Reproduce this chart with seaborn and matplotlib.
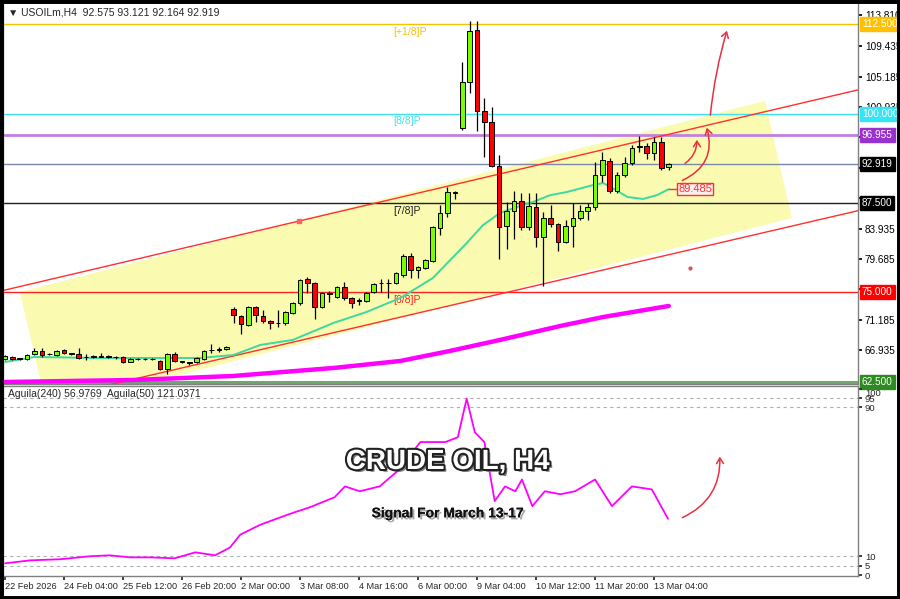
import numpy as np
import pandas as pd
import matplotlib
matplotlib.use("Agg")
import matplotlib.pyplot as plt
import matplotlib.patheffects as pe
import matplotlib.transforms as mtransforms
from matplotlib.patches import Polygon, FancyArrowPatch, Rectangle
import seaborn as sns

# candles (H4, bar index 0..90)
opens = [65.68, 66.0, 65.7, 65.7, 66.4, 66.8, 66.35, 66.25, 66.95, 66.45,
         66.4, 65.9, 65.95, 66.0, 66.05, 65.95, 65.95, 65.3, 65.65, 65.7,
         65.65, 65.4, 64.3, 66.4, 65.35, 65.2, 65.25, 65.7, 66.9, 67.0,
         67.1, 72.67, 71.7, 70.5, 72.95, 71.7, 71.0, 70.75, 70.7, 72.1,
         73.5, 76.9, 76.3, 72.95, 74.9, 74.35, 75.75, 74.2, 73.8, 73.8,
         75.05, 76.3, 76.35, 76.3, 77.4, 80.1, 78.1, 78.4, 79.4, 84.0,
         86.1, 88.9, 98.0, 104.4, 111.7, 100.4, 98.85, 92.7, 84.3, 86.4,
         87.8, 84.15, 86.95, 82.75, 85.4, 84.55, 82.05, 84.3, 85.4, 86.4,
         86.95, 91.4, 93.4, 89.2, 91.4, 93.1, 95.35, 95.5, 94.5, 96.0,
         92.575]
highs = [66.3, 66.1, 65.85, 66.4, 67.2, 67.2, 66.55, 66.9, 67.1, 66.5,
         67.2, 66.4, 66.2, 66.5, 66.2, 66.1, 66.1, 65.8, 65.8, 65.8,
         65.8, 65.5, 66.5, 66.6, 65.45, 65.3, 65.9, 66.95, 67.8, 67.3,
         67.5, 72.95, 71.9, 73.1, 73.1, 72.6, 71.2, 72.5, 72.4, 73.7,
         76.9, 77.15, 76.5, 75.1, 75.2, 75.9, 76.4, 74.4, 74.2, 75.1,
         76.3, 76.85, 76.85, 77.9, 80.3, 80.5, 78.7, 79.7, 84.3, 87.2,
         89.7, 89.2, 107.2, 113.0, 113.0, 102.2, 100.95, 94.2, 87.65, 89.2,
         88.9, 88.9, 88.9, 86.25, 87.2, 84.7, 85.1, 87.5, 87.2, 87.5,
         93.2, 94.65, 93.8, 91.85, 93.95, 95.6, 96.9, 95.9, 96.75, 96.75,
         93.121]
lows = [65.5, 65.6, 65.6, 65.6, 66.3, 66.0, 66.25, 66.1, 66.4, 66.2,
        65.7, 65.6, 65.8, 65.9, 65.8, 65.7, 65.1, 65.2, 65.55, 65.55,
        65.5, 64.1, 63.6, 65.2, 65.15, 64.8, 65.1, 65.6, 66.5, 66.6,
        67.0, 70.7, 69.2, 70.3, 70.85, 70.7, 69.9, 70.2, 70.5, 72.0,
        73.3, 74.9, 71.3, 72.8, 73.6, 74.2, 73.9, 72.8, 73.3, 73.6,
        74.9, 75.05, 74.2, 76.2, 77.2, 77.0, 77.0, 78.3, 79.3, 83.0,
        85.5, 88.1, 97.7, 102.9, 97.6, 93.95, 92.5, 79.7, 81.1, 82.5,
        83.7, 83.7, 81.35, 75.9, 84.15, 80.8, 81.9, 81.35, 85.1, 85.1,
        86.5, 90.45, 88.9, 88.9, 91.1, 92.8, 94.65, 93.65, 93.5, 92.1,
        92.164]
closes = [66.1, 65.7, 65.75, 66.25, 66.8, 66.25, 66.4, 66.8, 66.5, 66.35,
          65.85, 65.95, 65.95, 66.1, 65.95, 65.9, 65.3, 65.7, 65.7, 65.65,
          65.7, 64.3, 66.4, 65.4, 65.3, 65.1, 65.8, 66.8, 66.95, 67.1,
          67.35, 71.83, 70.6, 72.95, 71.83, 71.0, 70.7, 70.7, 72.25, 73.5,
          76.7, 76.3, 72.95, 74.9, 74.8, 75.75, 74.2, 73.5, 73.8, 74.9,
          76.17, 76.35, 76.3, 77.7, 80.1, 78.1, 78.5, 79.5, 84.1, 86.1,
          89.0, 89.0, 104.4, 111.6, 100.4, 98.85, 92.7, 84.15, 86.4, 87.8,
          84.15, 87.1, 82.75, 85.4, 84.55, 82.05, 84.3, 85.4, 86.4, 86.95,
          91.4, 93.5, 89.2, 91.4, 93.1, 95.2, 95.5, 94.5, 96.0, 92.4,
          92.919]

# moving averages (bar index, price)
ma_fast_idx = [0, 4, 12.9, 19.7, 26.4, 31, 34.6, 39, 44.5, 49, 53.6, 58, 62.6, 64.8,
               67.1, 69.4, 71.6, 73.9, 76.2, 79.7, 81.1, 83, 84.4, 86.5, 88.4, 90]
ma_fast_val = [65.26, 65.96, 65.82, 65.82, 65.82, 66.24, 67.64, 68.34, 70.71, 72.25,
               74.21, 77.0, 81.9, 84.4, 86.1, 86.95, 87.65, 88.6, 89.05, 90.0,
               90.3, 89.2, 88.35, 88.07, 88.6, 89.45]
ma_slow_idx = [0, 17.4, 30.9, 44.5, 53.6, 60.3, 67.1, 75.3, 81.1, 90]
ma_slow_val = [62.46, 62.74, 63.3, 64.42, 65.4, 66.8, 68.34, 70.3, 71.55, 73.1]

# Aguila(240) oscillator (bar index, value)
ag_idx = [0, 3.4, 7.5, 11.5, 14.2, 17, 19.7, 23, 25.8, 28.5, 30.5, 31.9, 34.6, 38.6,
          41.4, 44.7, 46.1, 48.1, 50.8, 53.6, 56.3, 59.7, 61.4, 62.6, 63.7,
          65, 66.4, 67.8, 69.2, 70.1, 71.5, 73.2, 75.3, 77.3, 80, 82.3, 85, 87.7, 89.9]
ag_val = [6.3, 7.9, 8.5, 10.1, 10.6, 9.5, 9.5, 9.0, 12.2, 10.6, 14.8, 21.7, 27.0, 32.8,
          36.5, 41.8, 47.6, 45.0, 47.6, 57.1, 71.4, 71.4, 74.0, 94.7, 76.7,
          71.4, 39.7, 47.6, 45.0, 51.3, 37.0, 45.0, 43.4, 45.0, 51.3, 37.0, 47.6, 46.0, 30.2]

# Murrey levels
level_prices = [112.5, 100.0, 87.5, 75.0, 62.5]
level_names = ["[+1/8]P", "[8/8]P", "[7/8]P", "[6/8]P", ""]
level_colors = ["#F5C400", "#40E0F0", "#202020", "#FF2020", "#6FA86F"]

resist = 96.955
bid = 92.919

# channel anchors (bar index, price)
chan_up = [(0, 75.33), (39.9, 84.99)]
chan_lo = [(0, 58.67), (75.25, 76.73)]
zone = [(2.03, 75.05), (103.05, 101.78), (106.7, 85.41), (5.7, 58.68)]

tick_pos = [0, 8, 16, 24, 32, 40, 48, 56, 64, 72, 80, 88]
tick_lab = ["22 Feb 2026", "24 Feb 04:00", "25 Feb 12:00", "26 Feb 20:00", "2 Mar 00:00",
            "3 Mar 08:00", "4 Mar 16:00", "6 Mar 00:00", "9 Mar 04:00", "10 Mar 12:00",
            "11 Mar 20:00", "13 Mar 04:00"]
price_ticks = [113.810, 109.435, 105.185, 100.935, 96.685, 92.435, 88.185,
               83.935, 79.685, 75.435, 71.185, 66.935]
hidden_ticks = [96.685, 92.435, 88.185, 75.435]  # covered by the level boxes

sns.set_theme(style="white")
plt.rcParams["font.family"] = ["Liberation Sans", "DejaVu Sans"]

W, H = 900, 599
fig = plt.figure(figsize=(9, 5.99), dpi=100)
ax = fig.add_axes([3 / W, 1 - 384 / H, 855 / W, 382 / H])
ax2 = fig.add_axes([3 / W, 1 - 576 / H, 855 / W, 190 / H], sharex=ax)

df = pd.DataFrame({"o": opens, "h": highs, "l": lows, "c": closes})
df["i"] = np.arange(len(df))

XL = (-0.27, 115.66)
ax.set_xlim(*XL)
ax.set_ylim(62.18, 115.63)
ax2.set_ylim(-0.5, 101.5)

# yellow channel zone
ax.add_patch(Polygon(zone, closed=True, facecolor="#FAFAB0", edgecolor="none", zorder=0))

# level lines
for p, n, c in zip(level_prices, level_names, level_colors):
    lw = 2.2 if p == 62.5 else 1.0
    ax.axhline(p, color=c, lw=lw, zorder=1)
    if n:
        ax.text(52.6, p - 0.35, n, color=c, fontsize=7.5, va="top", ha="left", zorder=2)
ax.axhline(resist, color="#C080E0", lw=2, zorder=1)
ax.axhline(bid, color="#7A8AA8", lw=1, zorder=1)

# channel lines
xs = np.array(XL)
for (x0, y0), (x1, y1) in [chan_up, chan_lo]:
    k = (y1 - y0) / (x1 - x0)
    ax.plot(xs, y0 + k * (xs - x0), color="#FF3030", lw=1, zorder=2)
ax.plot([39.9], [84.99], marker="s", ms=2.5, color="#FF6060", zorder=3)

# moving averages
sns.lineplot(x=ma_slow_idx, y=ma_slow_val, ax=ax, color="#FF00FF", lw=3.2, zorder=3)
sns.lineplot(x=ma_fast_idx, y=ma_fast_val, ax=ax, color="#3CD9A0", lw=1.4, zorder=3)

# candles
up = df["c"] >= df["o"]
ax.vlines(df["i"], df["l"], df["h"], color="black", lw=0.9, zorder=4)
body = (df["c"] - df["o"]).abs().clip(lower=0.08)
bottom = df[["o", "c"]].min(axis=1)
ax.bar(df["i"], body, bottom=bottom, width=0.62,
       color=np.where(up, "#7CFC00", "#FF0000"), edgecolor="black", lw=0.7, zorder=5)

# label for the fast MA
ax.plot([90, 92], [89.45, 89.45], color="#FF3030", lw=1, zorder=5)
ax.text(93.6, 89.45, "89.485", color="#FF3030", fontsize=8, ha="center", va="center",
        bbox=dict(boxstyle="square,pad=0.1", fc="#FFF0F0", ec="#FF3030", lw=1), zorder=6)

# arrows
arrow_kw = dict(arrowstyle="->,head_length=4,head_width=2.5", color="#E83040", lw=1.1, zorder=6)
ax.add_patch(FancyArrowPatch((95.6, 99.4), (98.0, 111.99), connectionstyle="arc3,rad=-0.05", **arrow_kw))
ax.add_patch(FancyArrowPatch((91.9, 92.82), (93.8, 96.74), connectionstyle="arc3,rad=0.3", **arrow_kw))
ax.add_patch(FancyArrowPatch((91.5, 90.5), (95.05, 98.42), connectionstyle="arc3,rad=0.45", **arrow_kw))
ax.plot([92.9], [78.41], marker="o", ms=2, color="#E05060", zorder=6)

# right-hand price labels
ax.set_yticks(price_ticks)
ax.set_yticklabels(["" if t in hidden_ticks else f"{t:.3f}" for t in price_ticks])
ax.yaxis.tick_right()
ax.tick_params(axis="y", labelsize=7.2, length=3, pad=2, colors="black", right=True)
for p, c in [(112.5, "#FFC000"), (100.0, "#33E5F5"), (resist, "#9932CC"),
             (bid, "#000000"), (87.5, "#000000"), (75.0, "#FF0000"), (62.5, "#2E8B22")]:
    ax.text(1.0045, p, f"{p:.3f}", transform=ax.get_yaxis_transform(), fontsize=7.2,
            color="white", va="center", ha="left", zorder=10, clip_on=False,
            bbox=dict(boxstyle="square,pad=0.2", fc=c, ec=c))

ax.text(0.006, 0.985, "\u25BC USOILm,H4  92.575 93.121 92.164 92.919", transform=ax.transAxes,
        fontsize=7.5, va="top", ha="left", family=["Liberation Sans", "DejaVu Sans"])

# oscillator panel
for v in [95, 90, 10, 5]:
    ax2.axhline(v, color="#B0B0B0", lw=0.8, ls=(0, (3, 3)), zorder=1)
sns.lineplot(x=ag_idx, y=ag_val, ax=ax2, color="#FF00FF", lw=1.3, zorder=3)
ax2.add_patch(FancyArrowPatch((91.5, 30.2), (96.9, 65.1), connectionstyle="arc3,rad=0.35",
                              **arrow_kw))
ax2.set_yticks([100, 95, 90, 10, 5, 0])
ax2.set_yticklabels(["100", "95", "90", "10", "5", "0"])
ax2.yaxis.tick_right()
ax2.tick_params(axis="y", labelsize=6.8, length=3, pad=2, right=True)
# nudge the top label below the 62.500 box, like the terminal does
lab100 = ax2.get_yticklabels()[0]
lab100.set_transform(lab100.get_transform() +
                     mtransforms.ScaledTranslation(0, -3 / 72, fig.dpi_scale_trans))
ax2.text(0.006, 0.985, "Aguila(240) 56.9769  Aguila(50) 121.0371", transform=ax2.transAxes,
         fontsize=7.5, va="top", ha="left")

ax2.text(0.52, 0.6, "CRUDE OIL, H4", transform=ax2.transAxes, fontsize=20, weight="bold",
         color="white", ha="center", va="center", zorder=8,
         path_effects=[pe.withSimplePatchShadow(offset=(2, -2), shadow_rgbFace="#606060", alpha=0.8),
                       pe.Stroke(linewidth=3, foreground="#222222"), pe.Normal()])
ax2.text(0.52, 0.33, "Signal For March 13-17", transform=ax2.transAxes, fontsize=10,
         weight="bold", color="#111111", ha="center", va="center",
         zorder=8, path_effects=[pe.withSimplePatchShadow(offset=(1.5, -1.5), shadow_rgbFace="#909090", alpha=0.8),
                                 pe.Normal()])

# x axis
ax2.set_xticks(tick_pos)
ax2.set_xticklabels(tick_lab, ha="left")
ax2.tick_params(axis="x", labelsize=6.6, length=3, pad=1, bottom=True)
plt.setp(ax.get_xticklabels(), visible=False)
ax.tick_params(axis="x", bottom=False)

for a in (ax, ax2):
    a.set_xlabel("")
    a.set_ylabel("")
    for s in a.spines.values():
        s.set_color("#808080")
        s.set_linewidth(1)
    a.set_facecolor("white")

fig.add_artist(Rectangle((0, 0), 1, 1, transform=fig.transFigure, fill=False,
                         ec="black", lw=5))

fig.savefig("out.png", dpi=100)
